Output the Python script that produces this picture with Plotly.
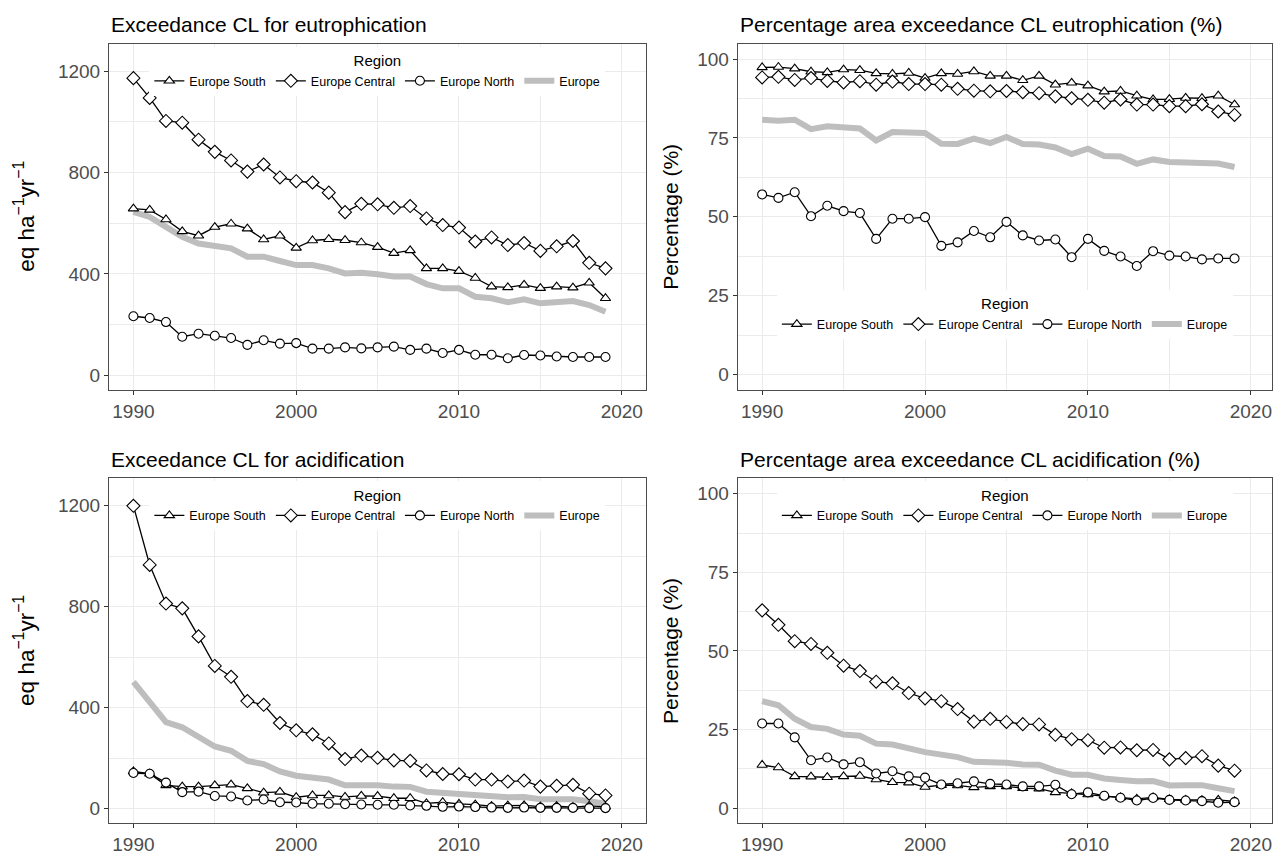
"""Exceedance of critical loads, Europe regions, 1990-2019."""
import plotly.graph_objects as go

YEARS = [1990, 1991, 1992, 1993, 1994, 1995, 1996, 1997, 1998, 1999,
         2000, 2001, 2002, 2003, 2004, 2005, 2006, 2007, 2008, 2009,
         2010, 2011, 2012, 2013, 2014, 2015, 2016, 2017, 2018, 2019]

REGIONS = ['Europe South', 'Europe Central', 'Europe North', 'Europe']

# exceedance CL eutrophication (eq ha-1 yr-1)
EUT_SOUTH = [658, 653, 615, 568, 551, 585, 598, 579, 536, 551,
             503, 532, 537, 533, 524, 506, 482, 493, 422, 422,
             411, 384, 350, 347, 357, 344, 350, 346, 365, 304]
EUT_CENTRAL = [1173, 1095, 1004, 997, 930, 882, 848, 804, 832, 781,
               766, 761, 721, 644, 677, 675, 661, 668, 619, 593,
               583, 528, 544, 514, 522, 491, 509, 530, 444, 422]
EUT_NORTH = [233, 226, 210, 152, 164, 156, 147, 120, 138, 125,
             127, 105, 105, 110, 106, 110, 113, 100, 105, 88,
             100, 81, 81, 67, 80, 78, 74, 72, 72, 72]
EUT_EUROPE = [645, 625, 586, 547, 520, 511, 501, 468, 468, 451,
              435, 435, 422, 402, 405, 399, 390, 390, 360, 343,
              343, 310, 304, 288, 300, 284, 290, 293, 277, 251]

# percentage area exceedance CL eutrophication (%)
EUT_PCT_SOUTH = [97.4, 97.5, 97.0, 96.0, 95.8, 96.7, 96.5, 95.5, 95.3, 95.6,
                 94.0, 95.5, 95.3, 96.1, 94.7, 94.7, 93.3, 94.7, 91.9, 92.5,
                 91.6, 89.7, 89.9, 88.4, 87.2, 87.3, 87.7, 87.6, 88.4, 85.6]
EUT_PCT_CENTRAL = [94.2, 94.4, 93.4, 94.0, 93.1, 92.6, 93.0, 91.9, 92.9, 92.1,
                   92.1, 91.9, 90.6, 90.0, 89.8, 89.9, 89.5, 89.2, 88.2, 87.6,
                   87.1, 86.2, 87.2, 85.6, 85.6, 85.1, 85.1, 85.7, 83.4, 82.3]
EUT_PCT_NORTH = [57.1, 56.0, 57.8, 50.2, 53.5, 51.8, 51.2, 43.0, 49.4, 49.4,
                 49.9, 40.8, 41.9, 45.5, 43.5, 48.4, 44.1, 42.5, 42.8, 37.2,
                 43.0, 39.2, 37.4, 34.4, 39.1, 37.7, 37.4, 36.5, 36.8, 36.8]
EUT_PCT_EUROPE = [80.8, 80.5, 80.8, 77.8, 78.7, 78.2, 78.0, 74.2, 76.9, 76.7,
                  76.6, 73.2, 73.1, 74.8, 73.4, 75.3, 73.1, 72.9, 72.0, 69.9,
                  71.6, 69.3, 69.1, 66.8, 68.2, 67.4, 67.4, 67.1, 66.9, 65.8]

# exceedance CL acidification (eq ha-1 yr-1)
ACID_SOUTH = [148, 139, 93, 88, 88, 93, 96, 81, 64, 67,
              46, 53, 53, 47, 51, 50, 42, 42, 22, 26,
              20, 17, 11, 13, 14, 9, 11, 7, 12, 8]
ACID_CENTRAL = [1200, 966, 813, 794, 683, 566, 523, 427, 412, 340,
                311, 295, 259, 197, 211, 202, 192, 190, 152, 138,
                137, 116, 116, 108, 112, 88, 91, 95, 60, 53]
ACID_NORTH = [142, 139, 104, 66, 68, 51, 49, 33, 37, 26,
              25, 20, 20, 18, 17, 16, 16, 13, 12, 8,
              9, 7, 5, 4, 5, 4, 4, 4, 3, 3]
ACID_EUROPE = [503, 424, 343, 323, 286, 247, 230, 190, 177, 148,
               131, 126, 116, 93, 96, 93, 88, 87, 68, 63,
               60, 53, 49, 46, 47, 38, 38, 38, 30, 20]

# percentage area exceedance CL acidification (%)
ACID_PCT_SOUTH = [13.7, 12.9, 10.1, 10.0, 9.8, 10.1, 10.2, 9.1, 8.2, 8.1,
                  6.7, 7.3, 7.2, 6.6, 6.9, 6.9, 6.3, 6.2, 5.0, 4.7,
                  4.3, 3.9, 3.4, 2.9, 3.4, 2.8, 2.6, 2.5, 2.6, 2.1]
ACID_PCT_CENTRAL = [62.9, 58.3, 53.1, 52.2, 49.4, 45.3, 43.6, 40.2, 39.7, 36.6,
                    34.9, 34.0, 31.5, 27.5, 28.4, 27.4, 26.7, 26.6, 23.3, 21.9,
                    21.6, 19.2, 19.3, 18.4, 18.5, 15.5, 15.9, 16.5, 13.5, 11.9]
ACID_PCT_NORTH = [26.9, 26.9, 22.5, 15.2, 16.1, 13.9, 14.6, 11.0, 11.7, 10.1,
                  9.7, 7.5, 7.9, 8.5, 7.7, 7.5, 6.9, 6.9, 7.4, 4.4,
                  5.0, 3.9, 3.3, 2.4, 3.2, 2.6, 2.4, 2.2, 1.7, 1.9]
ACID_PCT_EUROPE = [34.0, 32.7, 28.4, 25.8, 25.2, 23.4, 23.0, 20.5, 20.2, 18.9,
                   17.8, 17.0, 16.2, 14.7, 14.7, 14.4, 13.9, 13.8, 11.9, 10.6,
                   10.6, 9.4, 8.9, 8.5, 8.6, 7.2, 7.3, 7.3, 6.3, 5.4]

TITLES = ['Exceedance CL for eutrophication',
          'Percentage area exceedance CL eutrophication (%)',
          'Exceedance CL for acidification',
          'Percentage area exceedance CL acidification (%)']

FONT = 'Liberation Sans, Arial, sans-serif'
GRID = '#EBEBEB'
BORDER = '#4D4D4D'
TICKTXT = '#4D4D4D'
W, H = 1273, 855

# panel boxes in pixels: (left, right, top, bottom)
PANELS = [(109, 645.7, 44, 392.7), (737.7, 1272, 44, 392.7),
          (109, 645.7, 481.7, 829.3), (737.7, 1272, 481.7, 829.3)]

SYMBOLS = {'Europe South': 'triangle-up', 'Europe Central': 'diamond', 'Europe North': 'circle'}


def px_x(v):
    return v / W


def px_y(v):
    return 1 - v / H


def add_panel(fig, idx, series):
    """One panel: three regions with open markers plus thick grey Europe line."""
    ax = '' if idx == 0 else str(idx + 1)
    leg = 'legend' if idx == 0 else 'legend%d' % (idx + 1)
    # Europe first so markers sit on top, legendrank pushes it last
    fig.add_trace(go.Scatter(
        x=YEARS, y=series['Europe'], mode='lines', name='Europe',
        line=dict(color='#BEBEBE', width=6),
        xaxis='x' + ax, yaxis='y' + ax, legend=leg, legendrank=4,
    ))
    for rank, region in enumerate(REGIONS[:3]):
        fig.add_trace(go.Scatter(
            x=YEARS, y=series[region], mode='lines+markers', name=region,
            line=dict(color='black', width=1.3),
            marker=dict(symbol=SYMBOLS[region], size=9 if region != 'Europe Central' else 10,
                        color='white', line=dict(color='black', width=1.1)),
            xaxis='x' + ax, yaxis='y' + ax, legend=leg, legendrank=rank + 1,
        ))


fig = go.Figure()
data = [
    dict(zip(REGIONS, [EUT_SOUTH, EUT_CENTRAL, EUT_NORTH, EUT_EUROPE])),
    dict(zip(REGIONS, [EUT_PCT_SOUTH, EUT_PCT_CENTRAL, EUT_PCT_NORTH, EUT_PCT_EUROPE])),
    dict(zip(REGIONS, [ACID_SOUTH, ACID_CENTRAL, ACID_NORTH, ACID_EUROPE])),
    dict(zip(REGIONS, [ACID_PCT_SOUTH, ACID_PCT_CENTRAL, ACID_PCT_NORTH, ACID_PCT_EUROPE])),
]
for i, series in enumerate(data):
    add_panel(fig, i, series)

layout = dict(
    width=W, height=H,
    paper_bgcolor='white', plot_bgcolor='white',
    margin=dict(l=0, r=0, t=0, b=0),
    font=dict(family=FONT, color='black'),
    annotations=[],
)

for i, (l, r, t, b) in enumerate(PANELS):
    ax = '' if i == 0 else str(i + 1)
    pct = i in (1, 3)
    common = dict(
        showline=True, mirror=True, linecolor=BORDER, linewidth=1,
        ticks='outside', ticklen=4, tickcolor='#333333', tickwidth=1,
        tickfont=dict(size=19, color=TICKTXT, family=FONT),
        showgrid=True, gridcolor=GRID, gridwidth=1.1, zeroline=False,
    )
    layout['xaxis' + ax] = dict(
        common, domain=[px_x(l), px_x(r)], anchor='y' + ax,
        range=[1988.5, 2021.47 if not pct else 2021.3],
        tick0=1990, dtick=10,
        minor=dict(dtick=5, tick0=1990, showgrid=True, gridcolor=GRID, gridwidth=0.6, ticklen=0),
    )
    layout['yaxis' + ax] = dict(
        common, domain=[px_y(b), px_y(t)], anchor='x' + ax,
        range=[-4.9, 104.9] if pct else [-58, 1309],
        tick0=0, dtick=25 if pct else 400,
        minor=dict(dtick=12.5 if pct else 200, showgrid=True, gridcolor=GRID, gridwidth=0.6, ticklen=0),
    )
    layout['annotations'].append(dict(
        text=TITLES[i], xref='paper', yref='paper', x=px_x(l), y=px_y(t - 19),
        xanchor='left', yanchor='middle', showarrow=False,
        font=dict(size=21, color='black', family=FONT),
    ))
    ytitle = 'Percentage (%)' if pct else 'eq ha<sup>−1</sup>yr<sup>−1</sup>'
    layout['annotations'].append(dict(
        text=ytitle, xref='paper', yref='paper',
        x=px_x(671 if pct else 24), y=px_y((t + b) / 2),
        xanchor='center', yanchor='middle', textangle=-90, showarrow=False,
        font=dict(size=21 if pct else 22.5, color='black', family=FONT),
    ))
    # legend: top of panel, except the eutrophication percentage panel (bottom)
    leg_top = 292 if i == 1 else t + 3
    layout['legend' if i == 0 else 'legend%d' % (i + 1)] = dict(
        orientation='h', x=px_x((l + r) / 2), xanchor='center',
        y=px_y(leg_top), yanchor='top',
        bgcolor='white', borderwidth=0,
        font=dict(size=12.5, color='black', family=FONT),
        title=dict(text='Region', side='top center', font=dict(size=15, color='black', family=FONT)),
        traceorder='normal',
    )

fig.update_layout(**layout)
# page body margin would shift the fixed-size figure off the window
fig.write_html("out.html", config={'displayModeBar': False},
               post_script="document.body.style.margin='0';")
